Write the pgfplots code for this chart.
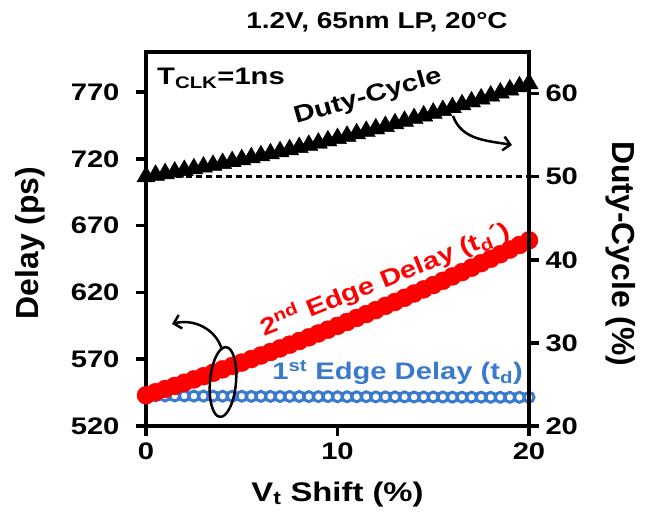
\documentclass[border=0pt]{standalone}
\usepackage{fontspec}
\setmainfont{Liberation Sans}[FakeStretch=1.22]
\newfontfamily\plainfont{Liberation Sans}
\usepackage{pgfplots}
\pgfplotsset{compat=1.18}
\usetikzlibrary{arrows.meta}
\definecolor{myred}{RGB}{255,0,0}
\definecolor{myblue}{RGB}{58,122,206}
\begin{document}
\begin{tikzpicture}
\path[use as bounding box] (-146bp,-88bp) rectangle (499bp,426bp);
\pgfplotsset{
  common/.style={
    at={(0,0)}, anchor=south west, scale only axis,
    width=383bp, height=374bp, xmin=0, xmax=20,
    tick align=outside, major tick length=10bp,
    every tick/.style={black, line width=3.5bp},
    axis line style={line width=4.5bp},
    tick label style={font=\bfseries\fontsize{24}{24}\selectfont},
    /pgf/number format/assume math mode=true,
    clip=false,
  }
}
\begin{axis}[common,
  ymin=520, ymax=800,
  xtick={0,10,20}, ytick={520,570,620,670,720,770},
  xtick pos=left, ytick pos=left,
  yticklabel style={xshift=-13bp},
  xticklabel style={yshift=-3bp},
  xlabel={V\textsubscript{t} Shift (\%)},
  xlabel style={font=\bfseries\fontsize{27}{27}\selectfont, at={(axis description cs:0.5,0)}, anchor=base, yshift=-75bp},
  ylabel={Delay (ps)},
  ylabel style={font=\plainfont\bfseries\fontsize{32}{32}\selectfont, at={(axis description cs:-0.303,0.489)}, anchor=center},
]
\addplot[only marks, mark=o, mark size=5bp, myblue, mark options={line width=3bp}] coordinates {
(0,542.6) (0.5,542.6) (1,542.5) (1.5,542.5) (2,542.5) (2.5,542.4) (3,542.4) (3.5,542.4) (4,542.3) (4.5,542.3)
(5,542.3) (5.5,542.2) (6,542.2) (6.5,542.2) (7,542.1) (7.5,542.1) (8,542.1) (8.5,542.0) (9,542.0) (9.5,542.0)
(10,541.9) (10.5,541.9) (11,541.9) (11.5,541.9) (12,541.8) (12.5,541.8) (13,541.8) (13.5,541.8) (14,541.7) (14.5,541.7)
(15,541.7) (15.5,541.7) (16,541.6) (16.5,541.6) (17,541.6) (17.5,541.6) (18,541.5) (18.5,541.5) (19,541.5) (19.5,541.5) (20,541.5)
};
\addplot[only marks, mark=*, mark size=9bp, myred, mark options={draw=myred, fill=myred}] coordinates {
(0,543.0) (0.5,545.3) (1,547.7) (1.5,550.0) (2,552.4) (2.5,554.9) (3,557.3) (3.5,559.8) (4,562.4) (4.5,564.9)
(5,567.5) (5.5,570.1) (6,572.8) (6.5,575.4) (7,578.1) (7.5,580.9) (8,583.6) (8.5,586.4) (9,589.3) (9.5,592.1)
(10,595.0) (10.5,597.9) (11,600.9) (11.5,603.8) (12,606.8) (12.5,609.9) (13,612.9) (13.5,616.0) (14,619.2) (14.5,622.3)
(15,625.5) (15.5,628.7) (16,632.0) (16.5,635.2) (17,638.5) (17.5,641.9) (18,645.2) (18.5,648.6) (19,652.1) (19.5,655.5) (20,659.0)
};
\end{axis}
\begin{axis}[common,
  ymin=20, ymax=65,
  axis x line=none, axis y line*=right,
  ytick={20,30,40,50,60},
  yticklabel style={xshift=3bp},
  ylabel={Duty-Cycle (\%)},
  ylabel style={font=\plainfont\bfseries\fontsize{32}{32}\selectfont, at={(axis description cs:1.240,0.46)}, anchor=center, rotate=180},
]
\addplot[black, line width=3bp, dash pattern=on 6bp off 4bp] coordinates {(0,50) (20,50)};
\addplot[only marks, mark=triangle*, mark size=10.5bp, black] coordinates {
(0,50.00) (0.5,50.18) (1,50.37) (1.5,50.56) (2,50.76) (2.5,50.96) (3,51.17) (3.5,51.38) (4,51.60) (4.5,51.82)
(5,52.05) (5.5,52.28) (6,52.52) (6.5,52.76) (7,53.01) (7.5,53.26) (8,53.52) (8.5,53.78) (9,54.05) (9.5,54.32)
(10,54.60) (10.5,54.88) (11,55.17) (11.5,55.46) (12,55.76) (12.5,56.06) (13,56.37) (13.5,56.68) (14,57.00) (14.5,57.32)
(15,57.65) (15.5,57.98) (16,58.32) (16.5,58.66) (17,59.01) (17.5,59.36) (18,59.72) (18.5,60.08) (19,60.45) (19.5,60.82) (20,61.20)
};
\end{axis}
\node[anchor=base, font=\bfseries\fontsize{23}{23}\selectfont] at (231bp,397bp) {1.2V, 65nm LP, 20°C};
\node[anchor=base west, inner sep=0, font=\bfseries\fontsize{24}{24}\selectfont] at (11bp,341bp) {T\textsubscript{CLK}=1ns};
\node[rotate=16, font=\bfseries\fontsize{24}{24}\selectfont] at (222bp,329bp) {Duty-Cycle};
\node[rotate=22, text=myred, font=\bfseries\fontsize{24}{24}\selectfont] at (239bp,147bp) {2\textsuperscript{nd} Edge Delay (t\textsubscript{d}´)};
\node[anchor=base east, inner sep=0, text=myblue, font=\bfseries\fontsize{24}{24}\selectfont] at (377bp,46bp) {1\textsuperscript{st} Edge Delay (t\textsubscript{d})};
\draw[line width=2.5bp, -{Straight Barb[length=7bp,width=14bp]}] (307bp,310bp) to[out=-70,in=170] (366bp,281bp);
\draw[line width=2.5bp, -{Straight Barb[length=7bp,width=14bp]}] (76bp,76bp) to[out=105,in=15] (26bp,102bp);
\draw[line width=2.5bp, rotate around={-5:(77bp,44bp)}] (77bp,44bp) ellipse [x radius=13bp, y radius=35bp];
\end{tikzpicture}
\end{document}
